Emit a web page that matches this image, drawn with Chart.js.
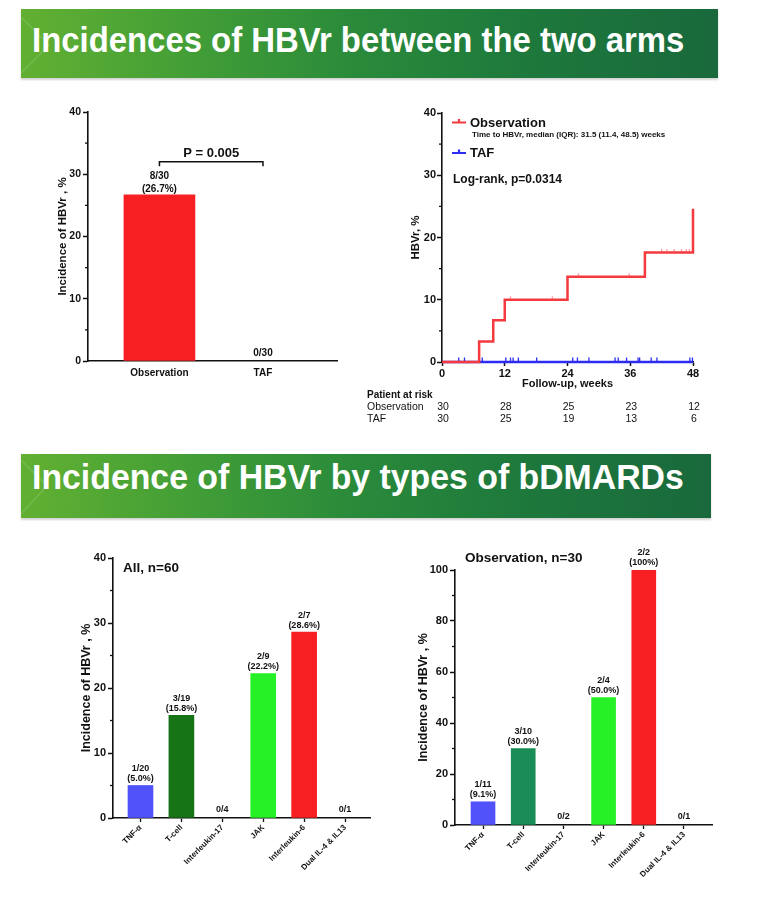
<!DOCTYPE html>
<html>
<head>
<meta charset="utf-8">
<script src="https://cdn.jsdelivr.net/npm/chart.js@4.4.1/dist/chart.umd.min.js"></script>
<style>
body { margin: 0; background: #fff; width: 772px; height: 906px; position: relative; overflow: hidden; font-family: "Liberation Sans", Arial, sans-serif; }
.banner { position: absolute; left: 21px; overflow: hidden;
  background: linear-gradient(90deg, #62b032 0%, #45a036 22%, #2a8a3a 48%, #1e793c 72%, #19693c 100%);
  box-shadow: 0 2px 2px rgba(0,0,0,0.18); }
.banner svg { position: absolute; left: 0; top: 0; }
.banner span { position: absolute; left: 11px; color: #fff; font-weight: bold; font-size: 35px; line-height: 35px; white-space: nowrap; transform-origin: 0 0; }
canvas { position: absolute; }
</style>
</head>
<body>
<div class="banner" style="top:9px;width:697px;height:69px;">
  <svg width="60" height="69"><polyline points="0,8 28,36 0,64" fill="none" stroke="rgba(255,255,255,0.13)" stroke-width="1.5"/></svg>
  <span style="top:13px" data-w="652">Incidences of HBVr between the two arms</span>
</div>
<div class="banner" style="top:454px;width:690px;height:64px;">
  <svg width="60" height="64"><polyline points="0,6 26,32 0,60" fill="none" stroke="rgba(255,255,255,0.13)" stroke-width="1.5"/></svg>
  <span style="top:5px" data-w="652">Incidence of HBVr by types of bDMARDs</span>
</div>

<canvas id="armChart" width="330" height="300" style="left:20px;top:95px"></canvas>
<canvas id="kmChart" width="360" height="335" style="left:360px;top:95px"></canvas>
<canvas id="allChart" width="330" height="366" style="left:50px;top:540px"></canvas>
<canvas id="obsChart" width="330" height="366" style="left:390px;top:540px"></canvas>

<script>
// incidence by arm
const armLabels = ['Observation', 'TAF'];
const armIncidence = [26.7, 0];
const armCounts = ['8/30', '0/30'];
const armPercents = ['(26.7%)', ''];
const armPText = 'P = 0.005';
const armBracketLevel = 32;

// cumulative incidence curves
const obsStepWeeks = [0, 7.1, 9.8, 12, 24, 38.8, 48];
const obsStepPct = [0, 3.3, 6.7, 10, 13.7, 17.6, 24.6];
const tafStepWeeks = [0, 48];
const tafStepPct = [0, 0];
const obsCensorWeeks = [13.1, 21.1, 26.1, 35.8, 42, 43, 44.4, 45.8, 46.7, 47.3];
const obsCensorPct = [10, 10, 13.7, 13.7, 17.6, 17.6, 17.6, 17.6, 17.6, 17.6];
const tafCensorWeeks = [3.2, 4.3, 7.7, 12.2, 13.1, 13.6, 14.6, 18.1, 25.0, 25.9, 28.1, 33.1, 33.7, 35.3, 37.5, 37.8, 40.0, 41.1, 47.4, 47.9];
const riskWeeks = [0, 12, 24, 36, 48];
const riskObs = [30, 28, 25, 23, 12];
const riskTaf = [30, 25, 19, 13, 6];

// by bDMARD type
const drugTypes = ['TNF-α', 'T-cell', 'Interleukin-17', 'JAK', 'Interleukin-6', 'Dual IL-4 & IL13'];
const allIncidence = [5.0, 15.8, 0, 22.2, 28.6, 0];
const allCounts = ['1/20', '3/19', '0/4', '2/9', '2/7', '0/1'];
const allPercents = ['(5.0%)', '(15.8%)', '', '(22.2%)', '(28.6%)', ''];
const obsIncidence = [9.1, 30.0, 0, 50.0, 100, 0];
const obsCounts = ['1/11', '3/10', '0/2', '2/4', '2/2', '0/1'];
const obsPercents = ['(9.1%)', '(30.0%)', '', '(50.0%)', '(100%)', ''];

const typeColors = {
  all: ['#5252fa', '#167316', '#888', '#26f026', '#f81f22', '#888'],
  obs: ['#5252fa', '#1a8c55', '#888', '#26f026', '#f81f22', '#888']
};

const FONT = '"Liberation Sans", Arial, sans-serif';
const INK = '#111';

Chart.defaults.font.family = FONT;
Chart.defaults.font.weight = 'bold';
Chart.defaults.color = INK;
Chart.defaults.animation = false;
Chart.defaults.plugins.legend.display = false;
Chart.defaults.plugins.tooltip.enabled = false;

document.querySelectorAll('.banner span').forEach(s => {
  s.style.transform = 'scaleX(' + (+s.dataset.w / s.offsetWidth) + ')';
});

// short unlabeled ticks on the y axis
const minorTicks = {
  id: 'minorTicks',
  afterDraw(chart, args, opts) {
    if (!opts.values) return;
    const ctx = chart.ctx, y = chart.scales.y, left = chart.chartArea.left;
    ctx.save();
    ctx.strokeStyle = INK;
    ctx.lineWidth = 1.3;
    opts.values.forEach(v => {
      const py = y.getPixelForValue(v);
      ctx.beginPath();
      ctx.moveTo(left - 3, py);
      ctx.lineTo(left, py);
      ctx.stroke();
    });
    ctx.restore();
  }
};

// n/N and (%) above each bar
const barNotes = {
  id: 'barNotes',
  afterDatasetsDraw(chart, args, o) {
    if (!o.counts) return;
    const {ctx, scales: {x, y}} = chart;
    ctx.save();
    ctx.font = 'bold ' + o.size + 'px ' + FONT;
    ctx.textAlign = 'center';
    ctx.textBaseline = 'middle';
    ctx.fillStyle = INK;
    o.counts.forEach((c, i) => {
      const px = x.getPixelForValue(i);
      const top = y.getPixelForValue(o.values[i]);
      if (o.percents[i]) {
        ctx.fillText(o.percents[i], px, top - o.gap);
        ctx.fillText(c, px, top - o.gap - o.lineGap);
      } else {
        ctx.fillText(c, px, top - o.zeroGap);
      }
    });
    if (o.title) {
      ctx.font = 'bold 13.5px ' + FONT;
      ctx.textAlign = 'left';
      ctx.fillText(o.title, chart.chartArea.left + 10, chart.chartArea.top + o.titleDy);
    }
    ctx.restore();
  }
};

Chart.register(minorTicks, barNotes);

function fixWidth(w) { return s => { s.width = w; }; }
function fixHeight(h) { return s => { s.height = h; }; }
// zero incidence draws no bar
function barPoints(values) { return values.map((v, i) => ({x: i, y: v === 0 ? null : v})); }

function typeChart(id, values, counts, percents, colors, o) {
  return new Chart(document.getElementById(id), {
    type: 'bar',
    data: {
      datasets: [{
        data: barPoints(values),
        backgroundColor: colors,
        barThickness: o.barWidth
      }]
    },
    options: {
      responsive: false,
      layout: {padding: o.padding},
      scales: {
        x: {
          type: 'linear', min: o.xMin, max: o.xMax, offset: false,
          afterFit: fixHeight(o.xHeight),
          ticks: {stepSize: 1, includeBounds: false, autoSkip: false, minRotation: 45, maxRotation: 45,
            padding: 1, font: {size: 8}, callback: v => drugTypes[v] || ''},
          grid: {offset: false, drawOnChartArea: false, tickLength: 4, tickColor: INK, tickWidth: 1.3},
          border: {color: INK, width: 1.6}
        },
        y: {
          min: 0, max: o.yMax,
          afterFit: fixWidth(o.yWidth),
          ticks: {stepSize: o.yStep, padding: 2, font: {size: 11}},
          grid: {drawOnChartArea: false, tickLength: 5, tickColor: INK, tickWidth: 1.5},
          border: {color: INK, width: 1.6},
          title: {display: true, text: 'Incidence of HBVr , %', font: {size: 12.5}, padding: {top: 4, bottom: 4}}
        }
      },
      plugins: {
        minorTicks: {values: o.minor},
        barNotes: {counts: counts, percents: percents, values: values, size: 9, gap: 7, lineGap: 10, zeroGap: 8,
          title: o.title, titleDy: o.titleDy}
      }
    }
  });
}

// top-left: Observation vs TAF
new Chart(document.getElementById('armChart'), {
  type: 'bar',
  data: {
    datasets: [{
      data: barPoints(armIncidence),
      backgroundColor: '#f81f22',
      barThickness: 71
    }]
  },
  options: {
    responsive: false,
    layout: {padding: {left: 32, right: 13, top: 17, bottom: 0}},
    scales: {
      x: {
        type: 'linear', min: -0.69, max: 1.715, offset: false,
        afterFit: fixHeight(34),
        ticks: {stepSize: 1, includeBounds: false, autoSkip: false, maxRotation: 0, padding: 6,
          font: {size: 10}, callback: v => armLabels[v] || ''},
        grid: {offset: false, drawOnChartArea: false, drawTicks: false},
        border: {color: INK, width: 1.6}
      },
      y: {
        min: 0, max: 40,
        afterFit: fixWidth(36),
        ticks: {stepSize: 10, padding: 2, font: {size: 10.5}},
        grid: {drawOnChartArea: false, tickLength: 5, tickColor: INK, tickWidth: 1.5},
        border: {color: INK, width: 1.6},
        title: {display: true, text: 'Incidence of HBVr , %', font: {size: 11.5}, padding: {top: 4, bottom: 4}}
      }
    },
    plugins: {
      minorTicks: {values: [5, 15, 25, 35]},
      barNotes: {counts: armCounts, percents: armPercents, values: armIncidence, size: 10, gap: 6, lineGap: 12.5, zeroGap: 8}
    }
  },
  plugins: [{
    id: 'pBracket',
    afterDatasetsDraw(chart) {
      const {ctx, scales: {x, y}} = chart;
      const x0 = x.getPixelForValue(0), x1 = x.getPixelForValue(1), py = y.getPixelForValue(armBracketLevel);
      ctx.save();
      ctx.strokeStyle = INK;
      ctx.lineWidth = 1.5;
      ctx.beginPath();
      ctx.moveTo(x0, py + 4.5); ctx.lineTo(x0, py); ctx.lineTo(x1, py); ctx.lineTo(x1, py + 4.5);
      ctx.stroke();
      ctx.font = 'bold 13px ' + FONT;
      ctx.fillStyle = INK;
      ctx.textAlign = 'center';
      ctx.textBaseline = 'middle';
      ctx.fillText(armPText, (x0 + x1) / 2, py - 8.5);
      ctx.restore();
    }
  }]
});

// top-right: cumulative incidence curves
const RED = '#f43a3e', BLUE = '#2c2cf2';
new Chart(document.getElementById('kmChart'), {
  type: 'line',
  data: {
    datasets: [
      {data: obsStepWeeks.map((w, i) => ({x: w, y: obsStepPct[i]})), stepped: 'before',
        borderColor: RED, borderWidth: 2.5, pointRadius: 0, clip: false},
      {data: obsCensorWeeks.map((w, i) => ({x: w, y: obsCensorPct[i]})), showLine: false,
        pointStyle: 'dash', rotation: -90, pointRadius: 3.5, pointBorderColor: 'rgba(244,80,85,0.55)', pointBorderWidth: 1.3, clip: false},
      {data: tafCensorWeeks.map(w => ({x: w, y: 0})), showLine: false,
        pointStyle: 'dash', rotation: -90, pointRadius: 4.5, pointBorderColor: BLUE, pointBorderWidth: 1.3, clip: false},
      {data: tafStepWeeks.map((w, i) => ({x: w, y: tafStepPct[i]})), stepped: 'before',
        borderColor: BLUE, borderWidth: 2.5, pointRadius: 0, clip: false}
    ]
  },
  options: {
    responsive: false,
    layout: {padding: {left: 45, right: 27, top: 18, bottom: 39}},
    scales: {
      x: {
        type: 'linear', min: 0, max: 48,
        afterFit: fixHeight(29),
        ticks: {stepSize: 12, padding: 1, maxRotation: 0, font: {size: 11}},
        grid: {drawOnChartArea: false, tickLength: 4, tickColor: INK, tickWidth: 1.5},
        border: {color: INK, width: 1.6},
        title: {display: true, text: 'Follow-up, weeks', font: {size: 11}, padding: 0}
      },
      y: {
        min: 0, max: 40,
        afterFit: fixWidth(37),
        ticks: {stepSize: 10, padding: 1, font: {size: 11}},
        grid: {drawOnChartArea: false, tickLength: 5, tickColor: INK, tickWidth: 1.5},
        border: {color: INK, width: 1.6},
        title: {display: true, text: 'HBVr, %', font: {size: 11.5}, padding: {top: 4, bottom: 4}}
      }
    },
    plugins: {minorTicks: {values: [5, 15, 25, 35]}}
  },
  plugins: [{
    id: 'kmText',
    afterDraw(chart) {
      const {ctx, chartArea: a, scales: {x}} = chart;
      ctx.save();
      ctx.textBaseline = 'middle';
      ctx.fillStyle = INK;
      const key = (color, y, label) => {
        ctx.strokeStyle = color;
        ctx.lineWidth = 2.2;
        ctx.beginPath();
        ctx.moveTo(a.left + 10, y); ctx.lineTo(a.left + 24, y);
        ctx.moveTo(a.left + 17, y - 3.5); ctx.lineTo(a.left + 17, y);
        ctx.stroke();
        ctx.font = 'bold 13px ' + FONT;
        ctx.fillText(label, a.left + 28, y + 0.5);
      };
      key(RED, a.top + 9.5, 'Observation');
      ctx.font = 'bold 8px ' + FONT;
      ctx.fillText('Time to HBVr, median (IQR): 31.5 (11.4, 48.5) weeks', a.left + 30, a.top + 22);
      key(BLUE, a.top + 40, 'TAF');
      ctx.font = 'bold 12px ' + FONT;
      ctx.fillText('Log-rank, p=0.0314', a.left + 11, a.top + 66.5);

      // patients at risk
      ctx.font = 'bold 10px ' + FONT;
      ctx.fillText('Patient at risk', 7, 300);
      ctx.font = '10.5px ' + FONT;
      ctx.fillText('Observation', 7, 312.5);
      ctx.fillText('TAF', 7, 324);
      ctx.textAlign = 'center';
      riskWeeks.forEach((w, i) => {
        const px = x.getPixelForValue(w) + 1;
        ctx.fillText(String(riskObs[i]), px, 312.5);
        ctx.fillText(String(riskTaf[i]), px, 324);
      });
      ctx.restore();
    }
  }]
});

// bottom: by bDMARD type
typeChart('allChart', allIncidence, allCounts, allPercents, typeColors.all, {
  padding: {left: 25, right: 10, top: 18, bottom: 0},
  xMin: -0.672, xMax: 5.61, xHeight: 88, yWidth: 38, yMax: 40, yStep: 10,
  minor: [5, 15, 25, 35], barWidth: 25, title: 'All, n=60', titleDy: 10.5
});
typeChart('obsChart', obsIncidence, obsCounts, obsPercents, typeColors.obs, {
  padding: {left: 22, right: 8, top: 30, bottom: 0},
  xMin: -0.697, xMax: 5.697, xHeight: 81, yWidth: 43, yMax: 100, yStep: 20,
  minor: [10, 30, 50, 70, 90], barWidth: 24, title: 'Observation, n=30', titleDy: -11.5
});
</script>
</body>
</html>
